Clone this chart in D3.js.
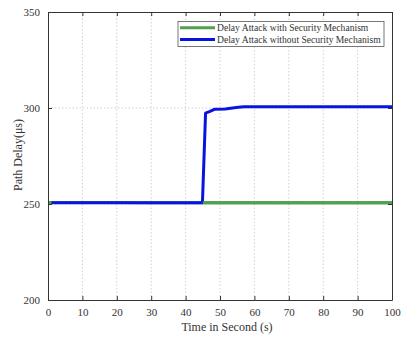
<!DOCTYPE html>
<html>
<head>
<meta charset="utf-8">
<script src="https://cdn.jsdelivr.net/npm/d3@7"></script>
<style>
  body { margin: 0; background: #fff; }
  text { font-family: "Liberation Serif", "DejaVu Serif", serif; fill: #333; }
</style>
</head>
<body>
<div class="chart"></div>
<script>
// time (s) and path delay (us)
var timeWith = [0, 10, 20, 30, 40, 45, 50, 60, 70, 80, 90, 100];
var delayWith = [250.8, 250.8, 250.8, 250.7, 250.7, 250.7, 250.7, 250.7, 250.7, 250.6, 250.6, 250.6];

var timeWithout = [1, 10, 20, 30, 40, 44.9, 45.8, 47.1, 48.5, 51.5, 55.3, 57, 60, 70, 80, 90, 100];
var delayWithout = [250.7, 250.7, 250.7, 250.6, 250.7, 250.7, 297.3, 298.2, 299.4, 299.5, 300.4, 300.6, 300.6, 300.6, 300.6, 300.6, 300.6];

var xTicks = [0, 10, 20, 30, 40, 50, 60, 70, 80, 90, 100];
var yTicks = [200, 250, 300, 350];

var seriesNames = ['Delay Attack with Security Mechanism', 'Delay Attack without Security Mechanism'];
var seriesColors = ['#4fa04f', '#0a14e0'];

const w = 403;
const h = 337;
const margin = { top: 12, right: 11, bottom: 37, left: 48 };

const svg = d3.select('.chart')
              .append('svg')
              .attr('width', w)
              .attr('height', h);

const xScale = d3.scaleLinear()
                 .domain([0, 100])
                 .range([margin.left, w - margin.right]);

const yScale = d3.scaleLinear()
                 .domain([200, 350])
                 .range([h - margin.bottom, margin.top]);

// dotted grid
svg.append('g')
   .selectAll('line')
   .data(xTicks.slice(1, -1))
   .enter()
   .append('line')
   .attr('x1', d => xScale(d))
   .attr('x2', d => xScale(d))
   .attr('y1', yScale(200))
   .attr('y2', yScale(350))
   .attr('stroke', '#c4c4c4')
   .attr('stroke-width', 0.8)
   .attr('stroke-dasharray', '1.5,2');

svg.append('g')
   .selectAll('line')
   .data(yTicks.slice(1, -1))
   .enter()
   .append('line')
   .attr('x1', xScale(0))
   .attr('x2', xScale(100))
   .attr('y1', d => yScale(d))
   .attr('y2', d => yScale(d))
   .attr('stroke', '#c4c4c4')
   .attr('stroke-width', 0.8)
   .attr('stroke-dasharray', '1.5,2');

// lines
const line = d3.line()
               .x(d => xScale(d[0]))
               .y(d => yScale(d[1]));

svg.append('path')
   .datum(timeWith.map((t, i) => [t, delayWith[i]]))
   .attr('d', line)
   .attr('fill', 'none')
   .attr('stroke', seriesColors[0])
   .attr('stroke-width', 3);

svg.append('path')
   .datum(timeWithout.map((t, i) => [t, delayWithout[i]]))
   .attr('d', line)
   .attr('fill', 'none')
   .attr('stroke', seriesColors[1])
   .attr('stroke-width', 3)
   .attr('stroke-linejoin', 'round');

// green tail shows on top after the jump
svg.append('path')
   .datum(timeWith.map((t, i) => [t, delayWith[i]]).filter(d => d[0] >= 45))
   .attr('d', line)
   .attr('fill', 'none')
   .attr('stroke', seriesColors[0])
   .attr('stroke-width', 3);

// axes, matlab style box with inward ticks
const xAxis = d3.axisBottom(xScale).tickValues(xTicks).tickSizeInner(-4).tickSizeOuter(0).tickPadding(8);
const yAxis = d3.axisLeft(yScale).tickValues(yTicks).tickSizeInner(-4).tickSizeOuter(0).tickPadding(8);

svg.append('g')
   .attr('transform', `translate(0, ${h - margin.bottom})`)
   .call(xAxis);

svg.append('g')
   .attr('transform', `translate(${margin.left}, 0)`)
   .call(yAxis);

svg.append('g')
   .attr('transform', `translate(0, ${margin.top})`)
   .call(d3.axisTop(xScale).tickValues(xTicks).tickSizeInner(-4).tickSizeOuter(0).tickFormat(''));

svg.append('g')
   .attr('transform', `translate(${w - margin.right}, 0)`)
   .call(d3.axisRight(yScale).tickValues(yTicks).tickSizeInner(-4).tickSizeOuter(0).tickFormat(''));

svg.selectAll('.domain').attr('stroke', '#333');
svg.selectAll('.tick line').attr('stroke', '#333');
svg.selectAll('.tick text')
   .style('font-family', '"Liberation Serif", serif')
   .style('font-size', '11px')
   .attr('fill', '#333');

svg.append('text')
   .attr('x', 227)
   .attr('y', 331)
   .style('text-anchor', 'middle')
   .style('font-size', '12px')
   .text('Time in Second (s)');

svg.append('text')
   .attr('transform', 'rotate(-90)')
   .attr('x', -155)
   .attr('y', 22)
   .style('text-anchor', 'middle')
   .style('font-size', '12px')
   .text('Path Delay(\u03bcs)');

// legend
const legend = svg.append('g');

legend.append('rect')
      .attr('x', 178)
      .attr('y', 21.5)
      .attr('width', 206)
      .attr('height', 25)
      .attr('fill', '#fff')
      .attr('stroke', '#555')
      .attr('stroke-width', 0.8);

seriesNames.forEach((name, i) => {
  const y = 27.8 + i * 11.6;
  legend.append('line')
        .attr('x1', 180)
        .attr('x2', 215)
        .attr('y1', y)
        .attr('y2', y)
        .attr('stroke', seriesColors[i])
        .attr('stroke-width', 3);
  legend.append('text')
        .attr('x', 217)
        .attr('y', y + 3.5)
        .style('font-size', '9.6px')
        .text(name);
});
</script>
</body>
</html>
